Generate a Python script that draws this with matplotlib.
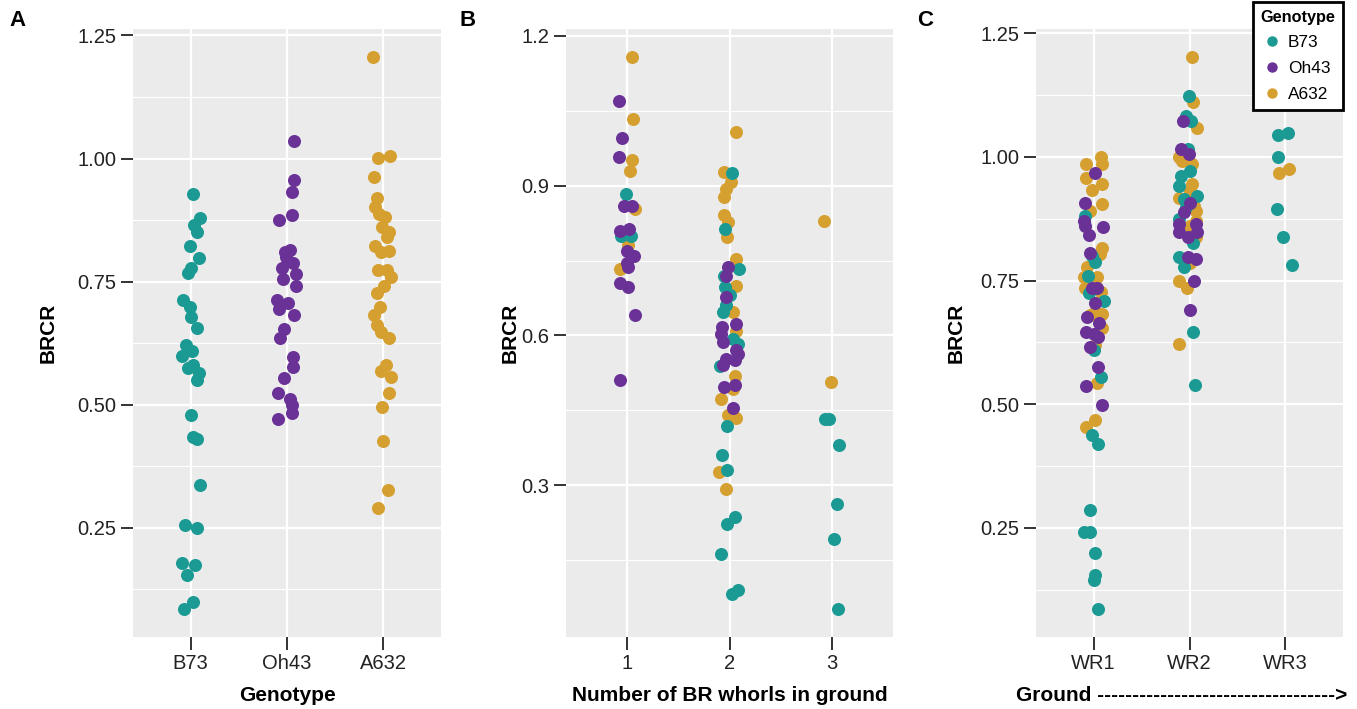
import matplotlib.pyplot as plt
from matplotlib.lines import Line2D

plt.rcParams['font.family'] = ['Liberation Sans', 'DejaVu Sans']

genotypes = ['B73', 'Oh43', 'A632']
geno_colors = {'B73': '#1B9A94', 'Oh43': '#6A3297', 'A632': '#D5A030'}

# ---- panel A : BRCR per genotype (x = genotype, jitter offsets)
a_b73_brcr = [0.927, 0.880, 0.865, 0.851, 0.823, 0.797, 0.777, 0.767, 0.712, 0.699,
              0.679, 0.655, 0.621, 0.608, 0.598, 0.574, 0.581, 0.564, 0.550, 0.478,
              0.435, 0.430, 0.336, 0.255, 0.249, 0.178, 0.175, 0.153, 0.099, 0.084]
a_b73_jit = [0.02, 0.10, 0.03, 0.06, -0.01, 0.09, 0.00, -0.03, -0.08, -0.01,
             0.00, 0.06, -0.05, 0.01, -0.09, -0.03, 0.02, 0.09, 0.07, 0.00,
             0.02, 0.06, 0.10, -0.06, 0.07, -0.09, 0.04, -0.04, 0.02, -0.07]
a_oh43_brcr = [1.036, 0.957, 0.931, 0.886, 0.875, 0.814, 0.810, 0.800, 0.788, 0.777,
               0.765, 0.756, 0.740, 0.712, 0.706, 0.694, 0.682, 0.653, 0.635, 0.596,
               0.577, 0.554, 0.524, 0.511, 0.500, 0.483, 0.470]
a_oh43_jit = [0.07, 0.07, 0.05, 0.05, -0.08, 0.03, -0.02, -0.01, 0.06, -0.05,
              0.09, -0.04, 0.09, -0.10, 0.01, -0.08, 0.07, -0.03, -0.07, 0.06,
              0.06, -0.03, -0.09, 0.03, 0.05, 0.05, -0.09]
a_a632_brcr = [1.207, 1.005, 1.001, 0.963, 0.919, 0.902, 0.888, 0.881, 0.861, 0.851,
               0.840, 0.822, 0.810, 0.812, 0.773, 0.773, 0.760, 0.741, 0.726, 0.699,
               0.682, 0.662, 0.648, 0.636, 0.581, 0.568, 0.557, 0.523, 0.495, 0.427,
               0.326, 0.290]
a_a632_jit = [-0.11, 0.07, -0.05, -0.10, -0.07, -0.09, -0.04, 0.02, -0.01, 0.06,
              0.04, -0.09, -0.02, 0.06, -0.05, 0.04, 0.08, 0.01, -0.07, -0.03,
              -0.10, -0.07, -0.02, 0.06, 0.03, -0.02, 0.08, 0.06, -0.01, 0.00,
              0.05, -0.05]

# ---- panel B : BRCR by number of BR whorls in ground
b_b73_whorls = [1, 1, 1,
                2, 2, 2, 2, 2, 2, 2, 2, 2, 2, 2, 2, 2, 2, 2, 2, 2, 2, 2,
                3, 3, 3, 3, 3, 3]
b_b73_brcr = [0.884, 0.800, 0.800,
              0.925, 0.813, 0.733, 0.720, 0.697, 0.682, 0.662, 0.647, 0.593, 0.582,
              0.538, 0.418, 0.360, 0.330, 0.237, 0.223, 0.162, 0.090, 0.083,
              0.432, 0.432, 0.380, 0.263, 0.192, 0.052]
b_b73_jit = [-0.01, -0.06, 0.04,
             0.02, -0.04, 0.09, -0.05, -0.04, 0.00, -0.03, -0.06, 0.03, 0.08,
             -0.09, -0.02, -0.07, -0.02, 0.05, -0.02, -0.08, 0.08, 0.02,
             -0.07, -0.03, 0.07, 0.05, 0.02, 0.06]
b_oh43_whorls = [1, 1, 1, 1, 1, 1, 1, 1, 1, 1, 1, 1, 1, 1, 1,
                 2, 2, 2, 2, 2, 2, 2, 2, 2, 2, 2, 2, 2, 2, 2]
b_oh43_brcr = [1.070, 0.995, 0.958, 0.859, 0.860, 0.809, 0.813, 0.770, 0.760, 0.745,
               0.737, 0.705, 0.697, 0.642, 0.510,
               0.737, 0.720, 0.677, 0.623, 0.617, 0.603, 0.587, 0.570, 0.563, 0.553,
               0.540, 0.551, 0.497, 0.500, 0.455]
b_oh43_jit = [-0.08, -0.05, -0.08, -0.03, 0.05, -0.07, 0.02, 0.00, 0.07, 0.00,
              0.01, -0.07, 0.01, 0.08, -0.07,
              -0.01, -0.03, -0.03, 0.06, -0.07, -0.08, -0.06, 0.06, 0.08, -0.03,
              -0.06, 0.05, -0.05, 0.05, 0.03]
b_a632_whorls = [1, 1, 1, 1, 1, 1, 1,
                 2, 2, 2, 2, 2, 2, 2, 2, 2, 2, 2, 2, 2, 2, 2, 2, 2, 2, 2,
                 3, 3]
b_a632_brcr = [1.158, 1.033, 0.951, 0.929, 0.853, 0.782, 0.733,
               1.008, 0.927, 0.907, 0.893, 0.878, 0.842, 0.827, 0.798, 0.753, 0.700,
               0.647, 0.609, 0.518, 0.493, 0.473, 0.440, 0.435, 0.327, 0.292,
               0.830, 0.507]
b_a632_jit = [0.05, 0.06, 0.05, 0.03, 0.08, 0.01, -0.07,
              0.06, -0.05, 0.01, -0.03, -0.05, -0.05, -0.01, -0.02, 0.06, 0.06,
              0.03, 0.06, 0.05, 0.03, -0.08, -0.01, 0.06, -0.10, -0.03,
              -0.08, -0.01]

# ---- panel C : BRCR per whorl (WR1..WR3)
c_b73_whorl = ['WR1'] * 17 + ['WR2'] * 16 + ['WR3'] * 6
c_b73_brcr = [0.881, 0.800, 0.787, 0.760, 0.724, 0.708, 0.610, 0.556, 0.437, 0.419,
              0.285, 0.242, 0.242, 0.198, 0.154, 0.144, 0.085,
              1.124, 1.083, 1.073, 1.016, 0.972, 0.962, 0.942, 0.922, 0.915, 0.898,
              0.875, 0.827, 0.797, 0.778, 0.646, 0.538,
              1.045, 1.049, 1.001, 0.895, 0.839, 0.782]
c_b73_jit = [-0.09, -0.02, 0.02, -0.06, -0.05, 0.11, 0.00, 0.08, -0.02, 0.05,
             -0.04, -0.10, -0.04, 0.02, 0.01, 0.00, 0.05,
             -0.01, -0.04, 0.02, -0.02, 0.01, -0.09, -0.11, 0.08, -0.06, -0.04,
             -0.11, 0.04, -0.11, -0.06, 0.04, 0.06,
             -0.08, 0.03, -0.08, -0.09, -0.03, 0.07]
c_oh43_whorl = ['WR1'] * 19 + ['WR2'] * 14
c_oh43_brcr = [0.968, 0.906, 0.871, 0.861, 0.858, 0.843, 0.805, 0.736, 0.736, 0.704,
               0.676, 0.664, 0.646, 0.642, 0.635, 0.615, 0.575, 0.536, 0.499,
               1.073, 1.016, 1.006, 0.906, 0.888, 0.865, 0.865, 0.848, 0.848, 0.838,
               0.798, 0.794, 0.749, 0.691]
c_oh43_jit = [0.01, -0.09, -0.10, -0.09, 0.10, -0.05, -0.04, -0.02, 0.04, 0.01,
              -0.07, 0.06, -0.08, 0.00, 0.05, -0.04, 0.05, -0.08, 0.09,
              -0.07, -0.09, -0.01, 0.00, -0.06, -0.11, 0.07, -0.11, 0.08, -0.02,
              -0.02, 0.07, 0.05, 0.00]
c_a632_whorl = ['WR1'] * 23 + ['WR2'] * 18 + ['WR3'] * 2
c_a632_brcr = [1.000, 0.986, 0.986, 0.957, 0.945, 0.933, 0.905, 0.890, 0.816, 0.804,
               0.777, 0.757, 0.757, 0.736, 0.726, 0.683, 0.681, 0.686, 0.654, 0.619,
               0.543, 0.469, 0.454,
               1.203, 1.112, 1.058, 0.999, 0.992, 0.986, 0.945, 0.932, 0.918, 0.900,
               0.891, 0.871, 0.861, 0.838, 0.785, 0.750, 0.735, 0.622,
               0.968, 0.976]
c_a632_jit = [0.08, -0.08, 0.09, -0.08, 0.09, -0.02, 0.09, -0.04, 0.09, 0.07,
              -0.07, 0.04, -0.10, -0.09, 0.08, 0.09, -0.04, 0.02, 0.09, 0.02,
              0.04, 0.02, -0.08,
              0.03, 0.04, 0.08, -0.11, -0.08, 0.03, 0.03, 0.01, -0.11, 0.05,
              0.07, 0.07, 0.01, 0.07, 0.01, -0.11, -0.03, -0.11,
              -0.07, 0.04]

a_labels = ['B73', 'Oh43', 'A632']
b_labels = ['1', '2', '3']
c_labels = ['WR1', 'WR2', 'WR3']

W, H = 1357, 709
fig = plt.figure(figsize=(W / 100, H / 100), dpi=100)


def px_axes(left, top, width, height):
    return fig.add_axes([left / W, 1 - (top + height) / H, width / W, height / H])


def style_panel(ax, yticks, yminor, fmt, ticklabels, ylab_x, xlabel, xlab_x=0.5):
    ax.set_facecolor('#EBEBEB')
    for s in ax.spines.values():
        s.set_visible(False)
    ax.set_xlim(0.4, 3.6)
    ax.set_xticks([1, 2, 3])
    ax.set_xticklabels(ticklabels)
    ax.set_yticks(yticks)
    ax.set_yticklabels([fmt.format(t) for t in yticks])
    ax.set_yticks(yminor, minor=True)
    ax.grid(which='major', color='white', lw=1.6)
    ax.grid(which='minor', axis='y', color='white', lw=0.8)
    ax.set_axisbelow(True)
    ax.tick_params(which='major', length=9, width=1.4, color='#333333',
                   labelsize=14.5, labelcolor='#222222', pad=3)
    ax.tick_params(which='minor', length=0)
    ax.set_ylabel('BRCR', fontsize=15, fontweight='bold')
    ax.yaxis.set_label_coords(ylab_x, 0.5)
    ax.set_xlabel(xlabel, fontsize=15, fontweight='bold')
    ax.xaxis.set_label_coords(xlab_x, -0.081)


def set_ylim_expand(ax, values):
    lo, hi = min(values), max(values)
    pad = 0.05 * (hi - lo)
    ax.set_ylim(lo - pad, hi + pad)


ms = 88

# panel A
axA = px_axes(133, 29, 308, 608)
for ys, js, g in [(a_a632_brcr, a_a632_jit, 'A632'),
                  (a_b73_brcr, a_b73_jit, 'B73'),
                  (a_oh43_brcr, a_oh43_jit, 'Oh43')]:
    pos = a_labels.index(g) + 1
    axA.scatter([pos + j for j in js], ys, s=ms, color=geno_colors[g], lw=0, zorder=3)
set_ylim_expand(axA, a_b73_brcr + a_oh43_brcr + a_a632_brcr)
style_panel(axA, [0.25, 0.50, 0.75, 1.00, 1.25], [0.125, 0.375, 0.625, 0.875, 1.125],
            '{:.2f}', a_labels, -0.244, 'Genotype')

# panel B
axB = px_axes(566, 29, 327, 608)
for xs, ys, js, g in [(b_a632_whorls, b_a632_brcr, b_a632_jit, 'A632'),
                      (b_b73_whorls, b_b73_brcr, b_b73_jit, 'B73'),
                      (b_oh43_whorls, b_oh43_brcr, b_oh43_jit, 'Oh43')]:
    axB.scatter([x + j for x, j in zip(xs, js)], ys, s=ms, color=geno_colors[g], lw=0, zorder=3)
set_ylim_expand(axB, b_b73_brcr + b_oh43_brcr + b_a632_brcr)
style_panel(axB, [0.3, 0.6, 0.9, 1.2], [0.15, 0.45, 0.75, 1.05],
            '{:.1f}', b_labels, -0.143, 'Number of BR whorls in ground')

# panel C
axC = px_axes(1036, 29, 307, 608)
for ws, ys, js, g in [(c_a632_whorl, c_a632_brcr, c_a632_jit, 'A632'),
                      (c_b73_whorl, c_b73_brcr, c_b73_jit, 'B73'),
                      (c_oh43_whorl, c_oh43_brcr, c_oh43_jit, 'Oh43')]:
    axC.scatter([c_labels.index(w) + 1 + j for w, j in zip(ws, js)], ys, s=ms,
                color=geno_colors[g], lw=0, zorder=3)
set_ylim_expand(axC, c_b73_brcr + c_oh43_brcr + c_a632_brcr)
style_panel(axC, [0.25, 0.50, 0.75, 1.00, 1.25], [0.125, 0.375, 0.625, 0.875, 1.125],
            '{:.2f}', c_labels, -0.228, 'Ground ' + '-' * 34 + '>', xlab_x=0.474)

for letter, x in [('A', 18), ('B', 468), ('C', 925)]:
    fig.text(x / W, 1 - 20 / H, letter, fontsize=16, fontweight='bold', va='center', ha='center')

handles = [Line2D([], [], marker='o', ls='', ms=6.5, color=geno_colors[g]) for g in genotypes]
leg = fig.legend(handles, genotypes, title='Genotype', loc='upper right',
                 bbox_to_anchor=(1343 / W, 1 - 2 / H), fontsize=12.4, alignment='left',
                 title_fontproperties={'weight': 'bold', 'size': 11.7},
                 frameon=True, fancybox=False, edgecolor='black', framealpha=1,
                 handletextpad=0.3, labelspacing=0.62, borderpad=0.45, handlelength=1.3,
                 borderaxespad=0)
leg.get_frame().set_linewidth(2)

fig.savefig('out.png', dpi=100)
